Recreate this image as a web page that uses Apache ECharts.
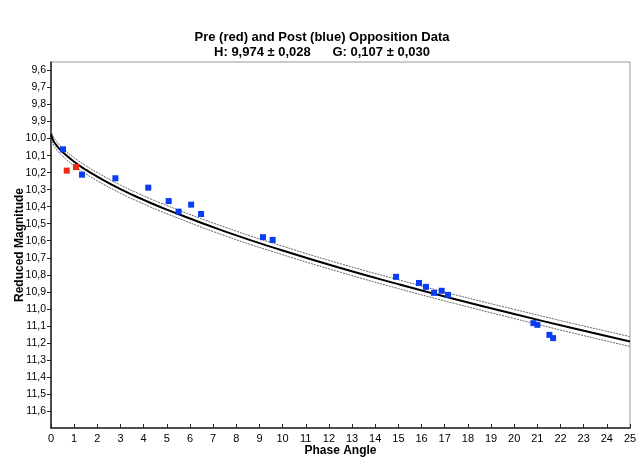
<!DOCTYPE html>
<html>
<head>
<meta charset="utf-8">
<script src="https://cdn.jsdelivr.net/npm/echarts@6/dist/echarts.min.js"></script>
<style>
  html, body { margin: 0; padding: 0; background: #fff; }
  #chart { width: 644px; height: 463px; }
</style>
</head>
<body>
<div id="chart"></div>
<script>
// pre-opposition points (red)
let preAngle = [0.68, 1.08]
let preMag = [10.188, 10.167]

// post-opposition points (blue)
let postAngle = [0.52, 1.34, 2.78, 4.20, 5.08, 5.51, 6.05, 6.48, 9.15, 9.57,
  14.90, 15.89, 16.19, 16.54, 16.87, 17.14, 20.83, 21.00, 21.52, 21.68]
let postMag = [10.063, 10.212, 10.233, 10.288, 10.367, 10.429, 10.388, 10.443, 10.579, 10.595,
  10.812, 10.848, 10.871, 10.906, 10.894, 10.918, 11.084, 11.094, 11.153, 11.172]

// fitted H-G curve and its error band
let fitAngle = [0, 0.1, 0.25, 0.5, 1, 1.5, 2, 3, 4, 5, 7.5, 10, 12.5, 15, 17.5, 20, 22.5, 25]
let fitMag = [9.974, 10.012, 10.042, 10.079, 10.136, 10.183, 10.224, 10.297, 10.360, 10.417,
  10.545, 10.657, 10.760, 10.855, 10.945, 11.030, 11.113, 11.192]
let fitUpper = [9.950, 9.988, 10.018, 10.055, 10.112, 10.159, 10.200, 10.273, 10.336, 10.393,
  10.520, 10.632, 10.735, 10.829, 10.919, 11.003, 11.085, 11.163]
let fitLower = [9.998, 10.036, 10.066, 10.103, 10.160, 10.207, 10.248, 10.321, 10.384, 10.441,
  10.570, 10.682, 10.785, 10.881, 10.971, 11.057, 11.141, 11.221]

let yTicks = [9.6, 9.7, 9.8, 9.9, 10.0, 10.1, 10.2, 10.3, 10.4, 10.5, 10.6,
  10.7, 10.8, 10.9, 11.0, 11.1, 11.2, 11.3, 11.4, 11.5, 11.6]

function pairs(xs, ys) {
  return xs.map(function (x, i) { return [x, ys[i]] })
}

let font = 'Liberation Sans'
let chart = echarts.init(document.getElementById('chart'))
let option = {
  animation: false,
  backgroundColor: '#fff',
  title: {
    text: 'Pre (red) and Post (blue) Opposition Data\nH: 9,974 \u00b1 0,028      G: 0,107 \u00b1 0,030',
    left: 'center',
    top: 25,
    textStyle: {
      fontFamily: font,
      fontSize: 13,
      fontWeight: 'bold',
      color: '#000',
      lineHeight: 15
    }
  },
  grid: {
    left: 51,
    right: 14,
    top: 62,
    bottom: 35,
    outerBoundsMode: 'none',
    containLabel: false,
    show: true,
    borderColor: '#999',
    borderWidth: 1
  },
  xAxis: {
    type: 'value',
    min: 0,
    max: 25,
    interval: 1,
    name: 'Phase Angle',
    nameLocation: 'middle',
    nameGap: 17,
    nameMoveOverlap: false,
    nameTextStyle: { fontFamily: font, fontSize: 12, fontWeight: 'bold', color: '#000' },
    axisLine: { lineStyle: { color: '#222', width: 1.5 } },
    axisTick: { inside: true, length: 4, lineStyle: { color: '#222' } },
    axisLabel: { fontFamily: font, fontSize: 11, color: '#000', margin: 5 },
    splitLine: { show: false }
  },
  yAxis: {
    type: 'value',
    inverse: true,
    min: 9.55,
    max: 11.7,
    name: 'Reduced Magnitude',
    nameLocation: 'middle',
    nameGap: 25,
    nameMoveOverlap: false,
    nameTextStyle: { fontFamily: font, fontSize: 12, fontWeight: 'bold', color: '#000' },
    axisLine: { show: true, lineStyle: { color: '#222', width: 1.5 } },
    axisTick: { show: true, length: 4, customValues: yTicks, lineStyle: { color: '#222' } },
    axisLabel: {
      fontFamily: font,
      fontSize: 10.5,
      color: '#000',
      margin: 5,
      customValues: yTicks,
      formatter: function (v) { return v.toFixed(1).replace('.', ',') }
    },
    splitLine: { show: false }
  },
  series: [
    {
      type: 'line',
      data: pairs(fitAngle, fitUpper),
      smooth: true,
      showSymbol: false,
      lineStyle: { color: '#666', width: 1, type: [2, 1] },
      z: 1
    },
    {
      type: 'line',
      data: pairs(fitAngle, fitLower),
      smooth: true,
      showSymbol: false,
      lineStyle: { color: '#666', width: 1, type: [2, 1] },
      z: 1
    },
    {
      type: 'line',
      data: pairs(fitAngle, fitMag),
      smooth: true,
      showSymbol: false,
      lineStyle: { color: '#000', width: 2 },
      z: 2
    },
    {
      type: 'scatter',
      data: pairs(preAngle, preMag),
      symbol: 'rect',
      symbolSize: 6,
      itemStyle: { color: '#ee2a10', opacity: 1 },
      z: 3
    },
    {
      type: 'scatter',
      data: pairs(postAngle, postMag),
      symbol: 'rect',
      symbolSize: 6,
      itemStyle: { color: '#0a3cf0', opacity: 1 },
      z: 3
    }
  ]
}
chart.setOption(option)
</script>
</body>
</html>
